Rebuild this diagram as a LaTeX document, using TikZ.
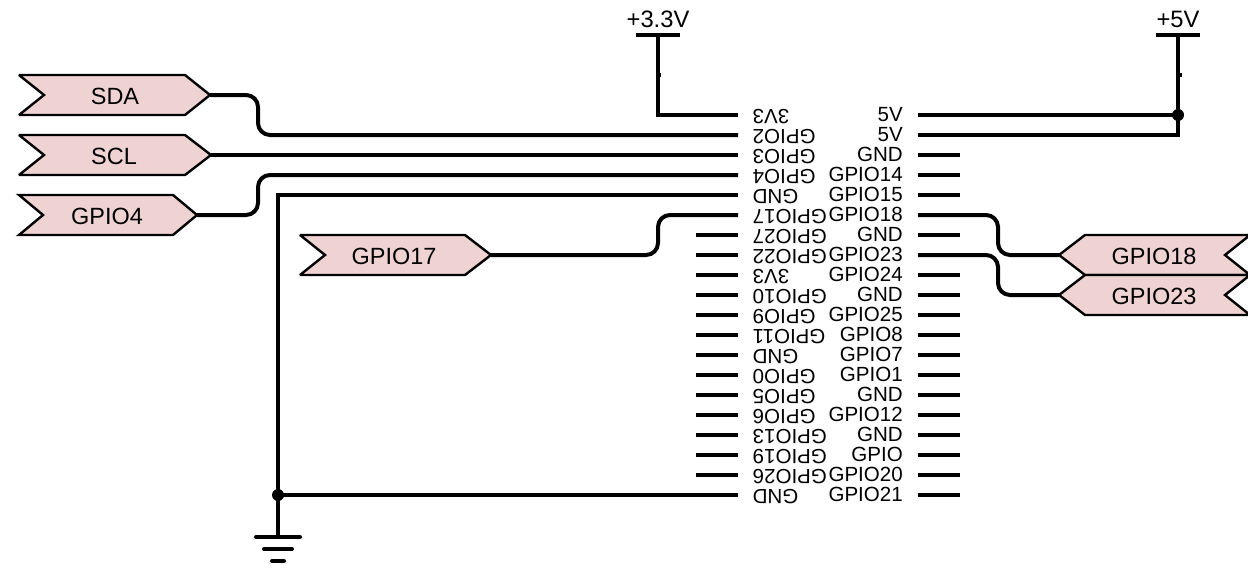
\documentclass[tikz,border=0pt]{standalone}
\usepackage{fontspec}
\setmainfont{Liberation Sans}
\definecolor{tagfill}{HTML}{EFD3D3}
\tikzset{
  wire/.style={line width=3pt,line cap=butt,line join=miter},
  bendwire/.style={wire,rounded corners=9pt},
  tagbox/.style={draw=black,fill=tagfill,line width=1.8pt,line join=miter,miter limit=3},
  taglabel/.style={font=\fontsize{17.6}{20}\selectfont,inner sep=0pt},
  powerlabel/.style={font=\fontsize{17.8}{20}\selectfont,inner sep=0pt,anchor=base},
  pinlabel/.style={font=\fontsize{15.4}{18}\selectfont,inner sep=0pt},
  bar/.style={line width=3pt,line cap=round},
  powerbar/.style={line width=3pt,line cap=butt},
  junction/.style={circle,fill=black,inner sep=0pt,minimum size=9pt,draw=none},
}
% \tagshape{name}{label}{x back}{x notch}{x body}{x tip}{y centre}{x text}
\newcommand{\tagshape}[8]{
  \path[tagbox] (#3,#7-20) -- (#5,#7-20) -- (#6,#7) -- (#5,#7+20) -- (#3,#7+20) -- (#4,#7) -- cycle;
  \coordinate (#1) at (#6,#7);
  \node[taglabel] (#1text) at (#8,#7+1) {#2};
}
\begin{document}
\begin{tikzpicture}[x=0.75pt,y=-0.75pt]
\useasboundingbox (0,0) rectangle (1248,567);

% pin rows
\foreach \lab [count=\i] in {3V3,GPIO2,GPIO3,GPIO4,GND,GPIO17,GPIO27,GPIO22,3V3,GPIO10,GPIO9,GPIO11,GND,GPIO0,GPIO5,GPIO6,GPIO13,GPIO19,GPIO26,GND}{
  \pgfmathsetmacro{\ry}{95+20*\i}
  \coordinate (L\i) at (738,\ry);
  \coordinate (LS\i) at (696,\ry);
  \node[pinlabel,rotate=180,anchor=base east] (LT\i) at (752.5,\ry-6) {\lab};
}
\foreach \lab [count=\i] in {5V,5V,GND,GPIO14,GPIO15,GPIO18,GND,GPIO23,GPIO24,GND,GPIO25,GPIO8,GPIO7,GPIO1,GND,GPIO12,GND,GPIO,GPIO20,GPIO21}{
  \pgfmathsetmacro{\ry}{95+20*\i}
  \coordinate (R\i) at (918,\ry);
  \coordinate (RS\i) at (960,\ry);
  \node[pinlabel,anchor=base east] (RT\i) at (903,\ry+6.5) {\lab};
}
% stubs of the unconnected pins
\foreach \i in {7,...,19}{ \draw[wire] (L\i) -- (LS\i); }
\foreach \i in {3,4,5,7,9,10,11,12,13,14,15,16,17,18,19,20}{ \draw[wire] (R\i) -- (RS\i); }

% tags
\tagshape{sda}{SDA}{19}{44}{185}{210}{95}{115}
\tagshape{scl}{SCL}{19}{44}{185}{211}{155}{114}
\tagshape{gpiofour}{GPIO4}{19}{43}{173}{197}{215}{107}
\tagshape{gpioseventeen}{GPIO17}{300}{325}{465}{491}{255}{394}
\tagshape{gpioeighteen}{GPIO18}{1250}{1225}{1085}{1059}{255}{1154}
\tagshape{gpiotwentythree}{GPIO23}{1250}{1225}{1085}{1059}{295}{1154}

% bend columns
\coordinate (bendA) at (258,0);
\coordinate (bendB) at (658,0);
\coordinate (bendC) at (998,0);
\coordinate (gndx) at (278,0);
\coordinate (rail) at (1178,0);

% signal wires
\draw[bendwire] (sda) -- (sda -| bendA) -- (L2 -| bendA) -- (L2);
\draw[wire] (scl) -- (L3);
\draw[bendwire] (gpiofour) -- (gpiofour -| bendA) -- (L4 -| bendA) -- (L4);
\draw[bendwire] (gpioseventeen) -- (gpioseventeen -| bendB) -- (L6 -| bendB) -- (L6);
\draw[bendwire] (R6) -- (R6 -| bendC) -- (gpioeighteen -| bendC) -- (gpioeighteen);
\draw[bendwire] (R8) -- (R8 -| bendC) -- (gpiotwentythree -| bendC) -- (gpiotwentythree);

% +3.3V
\node[powerlabel] (vthree) at (658,28) {+3.3V};
\coordinate (vthreetop) at (658,35);
\draw[powerbar] (636,35) -- (680,35);
\draw[wire] (vthreetop) -- (L1 -| vthreetop) -- (L1);
\fill (658,73) rectangle (661,77);

% +5V
\node[powerlabel] (vfive) at (1178,28) {+5V};
\coordinate (vfivetop) at (1178,35);
\draw[powerbar] (1156,35) -- (1200,35);
\draw[line width=2.7pt] (vfivetop) -- (R2 -| vfivetop);
\fill (1178,73) rectangle (1182,77);
\draw[wire] (R1) -- (R1 -| rail);
\draw[wire] (R2) -- (R2 -| rail) -- ++(0,-6);
\node[junction] (jfive) at (R1 -| rail) {};

% ground
\coordinate (gndtop) at (278,537);
\draw[wire] (L5) -- (L5 -| gndx) -- (gndtop);
\draw[wire] (L20) -- (L20 -| gndx);
\node[junction] (jgnd) at (L20 -| gndx) {};
\draw[bar] (256,537) -- (300,537);
\draw[bar] (264,549) -- (292,549);
\draw[bar] (272,561) -- (284,561);
\end{tikzpicture}
\end{document}
